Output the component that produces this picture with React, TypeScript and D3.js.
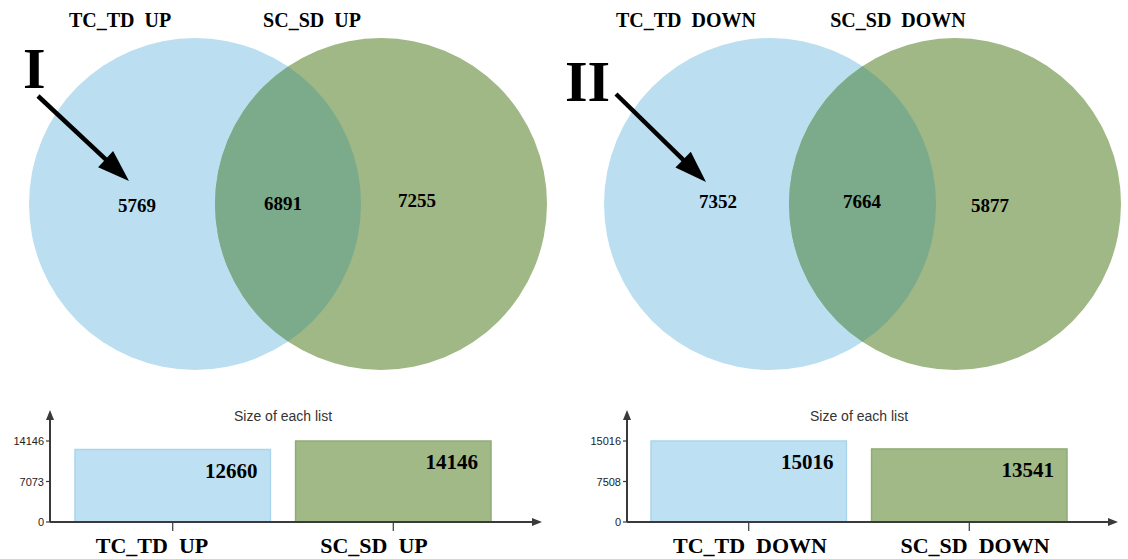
import React from "react";
import * as d3 from "d3";

// Venn region counts: [only first, shared, only second]
const upSetNames = ["TC_TD  UP", "SC_SD  UP"];
const upRegions = [5769, 6891, 7255];
const upListSizes = [12660, 14146];

const downSetNames = ["TC_TD  DOWN", "SC_SD  DOWN"];
const downRegions = [7352, 7664, 5877];
const downListSizes = [15016, 13541];

const panelNumerals = ["I", "II"];
const barTitle = "Size of each list";

const BLUE = "#bbdff1";
const GREEN = "#a0b786";
const OVERLAP = "#7bab8a";
const BLUE_BAR = "#bde0f2";
const BLUE_BAR_EDGE = "#a9d5ee";
const GREEN_BAR = "#a1b887";
const GREEN_BAR_EDGE = "#8fad76";
const AXIS = "#3a3a3a";
const SERIF = "'Liberation Serif', 'Times New Roman', serif";
const SANS = "'Liberation Sans', Arial, sans-serif";

type PanelProps = {
  id: string;
  names: string[];
  regions: number[];
  sizes: number[];
  numeral: string;
  cxA: number;
  cxB: number;
  titleX: [number, number];
  regionPos: [number, number][];
  numeralX: number;
  numeralY: number;
  arrow: [number, number, number, number];
  barRange: [number, number];
  axisX: number;
  axisEnd: number;
  catLabelX: [number, number];
};

function Arrow({ x1, y1, x2, y2 }: { x1: number; y1: number; x2: number; y2: number }) {
  const ang = Math.atan2(y2 - y1, x2 - x1);
  const head = 32;
  const half = 11;
  const bx = x2 - head * Math.cos(ang);
  const by = y2 - head * Math.sin(ang);
  const px = -Math.sin(ang);
  const py = Math.cos(ang);
  const pts = [
    [x2, y2],
    [bx + px * half, by + py * half],
    [bx - px * half, by - py * half],
  ];
  return (
    <g>
      <line x1={x1} y1={y1} x2={bx + 2 * Math.cos(ang)} y2={by + 2 * Math.sin(ang)} stroke="#000" strokeWidth={4.5} />
      <polygon points={pts.map((p) => p.join(",")).join(" ")} fill="#000" />
    </g>
  );
}

function Panel(p: PanelProps) {
  const cy = 204;
  const rx = 166;
  const ry = 166;

  // bar chart scales
  const yMax = d3.max(p.sizes) as number;
  const y = d3.scaleLinear().domain([0, yMax]).range([522, 441]);
  const x = d3
    .scaleBand<string>()
    .domain(p.names)
    .range(p.barRange)
    .paddingInner(0.114)
    .paddingOuter(0);
  const ticks = [0, yMax / 2, yMax];
  const barFill = [BLUE_BAR, GREEN_BAR];
  const barEdge = [BLUE_BAR_EDGE, GREEN_BAR_EDGE];
  const titleCenter = (p.barRange[0] + p.barRange[1]) / 2;

  return (
    <g>
      <defs>
        <clipPath id={`clip-${p.id}`}>
          <ellipse cx={p.cxA} cy={cy} rx={rx} ry={ry} />
        </clipPath>
      </defs>

      {/* set names */}
      {p.names.map((n, i) => (
        <text
          key={n}
          x={p.titleX[i]}
          y={27}
          textAnchor="middle"
          fontFamily={SERIF}
          fontWeight="bold"
          fontSize={20}
          style={{ whiteSpace: "pre" }}
        >
          {n}
        </text>
      ))}

      {/* Venn circles */}
      <ellipse cx={p.cxA} cy={cy} rx={rx} ry={ry} fill={BLUE} />
      <ellipse cx={p.cxB} cy={cy} rx={rx} ry={ry} fill={GREEN} />
      <ellipse cx={p.cxB} cy={cy} rx={rx} ry={ry} fill={OVERLAP} clipPath={`url(#clip-${p.id})`} />

      {p.regions.map((v, i) => (
        <text
          key={i}
          x={p.regionPos[i][0]}
          y={p.regionPos[i][1]}
          textAnchor="middle"
          dominantBaseline="central"
          fontFamily={SERIF}
          fontWeight="bold"
          fontSize={19}
        >
          {v}
        </text>
      ))}

      {/* panel numeral and pointer */}
      <text x={p.numeralX} y={p.numeralY} fontFamily={SERIF} fontWeight="bold" fontSize={58}>
        {p.numeral}
      </text>
      <Arrow x1={p.arrow[0]} y1={p.arrow[1]} x2={p.arrow[2]} y2={p.arrow[3]} />

      {/* list size bars */}
      <text x={titleCenter} y={421} textAnchor="middle" fontFamily={SANS} fontSize={14} fill="#333">
        {barTitle}
      </text>
      {p.sizes.map((v, i) => {
        const bx = x(p.names[i]) as number;
        const bw = x.bandwidth();
        return (
          <g key={i}>
            <rect
              x={bx}
              y={y(v)}
              width={bw}
              height={y(0) - y(v)}
              fill={barFill[i]}
              stroke={barEdge[i]}
              strokeWidth={1.5}
            />
            <text
              x={bx + bw - 13}
              y={y(v) + 28}
              textAnchor="end"
              fontFamily={SERIF}
              fontWeight="bold"
              fontSize={21}
            >
              {v}
            </text>
            <line x1={bx + bw / 2} x2={bx + bw / 2} y1={y(0)} y2={y(0) + 9} stroke={AXIS} strokeWidth={1.2} />
            <text
              x={p.catLabelX[i]}
              y={553}
              textAnchor="middle"
              fontFamily={SERIF}
              fontWeight="bold"
              fontSize={22}
              style={{ whiteSpace: "pre" }}
            >
              {p.names[i]}
            </text>
          </g>
        );
      })}

      {/* axes */}
      <line x1={p.axisX} x2={p.axisX} y1={y(0)} y2={418} stroke={AXIS} strokeWidth={2} />
      <polygon
        points={`${p.axisX - 4},${420} ${p.axisX + 4},${420} ${p.axisX},${410}`}
        fill={AXIS}
      />
      <line x1={p.axisX} x2={p.axisEnd - 6} y1={y(0)} y2={y(0)} stroke={AXIS} strokeWidth={2} />
      <polygon
        points={`${p.axisEnd - 9},${y(0) - 4} ${p.axisEnd - 9},${y(0) + 4} ${p.axisEnd + 1},${y(0)}`}
        fill={AXIS}
      />
      {ticks.map((t) => (
        <g key={t}>
          <line x1={p.axisX - 4} x2={p.axisX} y1={y(t)} y2={y(t)} stroke={AXIS} strokeWidth={1.2} />
          <text
            x={p.axisX - 6}
            y={y(t)}
            textAnchor="end"
            dominantBaseline="central"
            fontFamily={SANS}
            fontSize={11}
            fill="#222"
          >
            {t}
          </text>
        </g>
      ))}
    </g>
  );
}

export default function App() {
  return (
    <svg
      width={1128}
      height={559}
      viewBox="0 0 1128 559"
      style={{ position: "absolute", left: 0, top: 0, background: "#fff" }}
    >
      <rect width={1128} height={559} fill="#fff" />
      <Panel
        id="up"
        names={upSetNames}
        regions={upRegions}
        sizes={upListSizes}
        numeral={panelNumerals[0]}
        cxA={195}
        cxB={381}
        titleX={[120, 312]}
        regionPos={[
          [137, 205],
          [283, 203],
          [417, 200],
        ]}
        numeralX={23}
        numeralY={88}
        arrow={[38, 96, 129, 181]}
        barRange={[75, 491]}
        axisX={50}
        axisEnd={541}
        catLabelX={[152, 374]}
      />
      <Panel
        id="down"
        names={downSetNames}
        regions={downRegions}
        sizes={downListSizes}
        numeral={panelNumerals[1]}
        cxA={770}
        cxB={955}
        titleX={[686, 898]}
        regionPos={[
          [718, 201],
          [862, 201],
          [990, 205],
        ]}
        numeralX={565}
        numeralY={101}
        arrow={[616, 94, 706, 182]}
        barRange={[651, 1067]}
        axisX={627}
        axisEnd={1117}
        catLabelX={[750, 975]}
      />
    </svg>
  );
}
